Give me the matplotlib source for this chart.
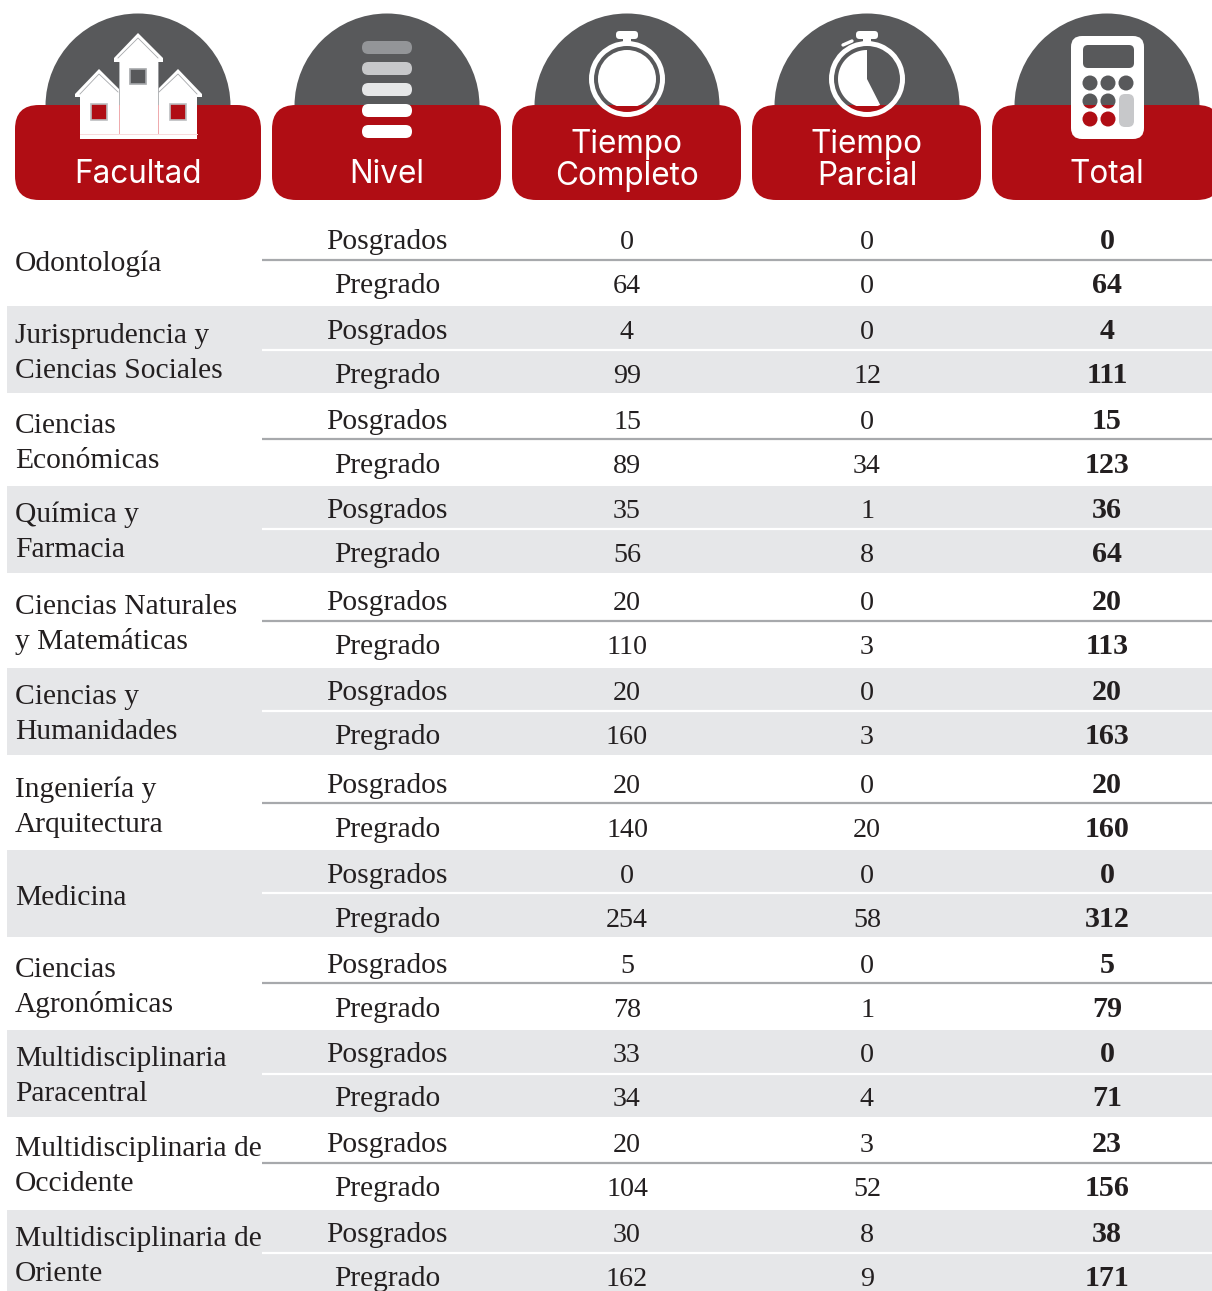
import numpy as np
import matplotlib
matplotlib.use('Agg')
import matplotlib.pyplot as plt
from matplotlib.patches import FancyBboxPatch, Rectangle, Circle, Polygon, Wedge

facultades = ['Odontología', 'Jurisprudencia y\nCiencias Sociales', 'Ciencias\nEconómicas',
              'Química y\nFarmacia', 'Ciencias Naturales\ny Matemáticas', 'Ciencias y\nHumanidades',
              'Ingeniería y\nArquitectura', 'Medicina', 'Ciencias\nAgronómicas',
              'Multidisciplinaria\nParacentral', 'Multidisciplinaria de\nOccidente',
              'Multidisciplinaria de\nOriente']
niveles = ['Posgrados', 'Pregrado']
completo_pos = [0, 4, 15, 35, 20, 20, 20, 0, 5, 33, 20, 30]
completo_pre = [64, 99, 89, 56, 110, 160, 140, 254, 78, 34, 104, 162]
parcial_pos = [0, 0, 0, 1, 0, 0, 0, 0, 0, 0, 3, 8]
parcial_pre = [0, 12, 34, 8, 3, 3, 20, 58, 1, 4, 52, 9]
total_pos = [0, 4, 15, 36, 20, 20, 20, 0, 5, 0, 23, 38]
total_pre = [64, 111, 123, 64, 113, 163, 160, 312, 79, 71, 156, 171]
encabezados = ['Facultad', 'Nivel', 'Tiempo\nCompleto', 'Tiempo\nParcial', 'Total']

# layout in pixels of the picture
band_edges = [216, 306, 393, 486, 573, 668, 755, 850, 937, 1030, 1117, 1210, 1291]
sep_y = [260, 350, 439, 529, 621, 711, 803, 893, 983, 1074, 1163, 1253]
pos_y = [249, 339, 429, 518, 610, 700, 793, 883, 973, 1062, 1152, 1242]
pre_y = [293, 383, 473, 562, 654, 744, 837, 927, 1017, 1106, 1196, 1286]
col_x = [387, 627, 867, 1107]

RED = '#B00D14'
DARK = '#58595B'
BAND = '#E6E7E9'
LINE = '#A7A9AC'
TXT = '#231F20'
SERIF = 'Liberation Serif'
SANS = 'Inter'

def px(n):
    return n * 0.72

fig = plt.figure(figsize=(12.12, 12.91), dpi=100)
ax = fig.add_axes([0, 0, 1, 1])
ax.set_xlim(0, 1212)
ax.set_ylim(1291, 0)
ax.axis('off')

def clip(patch, y0, y1):
    r = Rectangle((0, y0), 1212, y1 - y0, transform=ax.transData)
    patch.set_clip_path(r)

def rbox(x0, y0, x1, y1, r, color, z):
    p = FancyBboxPatch((x0 + r, y0 + r), x1 - x0 - 2 * r, y1 - y0 - 2 * r,
                       boxstyle='round,pad=%f,rounding_size=%f' % (r, r),
                       fc=color, ec='none', zorder=z)
    ax.add_patch(p)
    return p

# table
for i in range(12):
    if i % 2 == 1:
        ax.add_patch(Rectangle((7, band_edges[i]), 1205, band_edges[i + 1] - band_edges[i],
                               fc=BAND, ec='none', zorder=1))
    ax.plot([262, 1212], [sep_y[i], sep_y[i]], color='white' if i % 2 else LINE, lw=1.6,
            solid_capstyle='butt', zorder=2)
    lineas = facultades[i].split('\n')
    mid = (pos_y[i] + pre_y[i]) / 2 - 10
    if len(lineas) == 1:
        ys = [mid + 1]
    else:
        ys = [mid - 17, mid + 18]
    for linea, yy in zip(lineas, ys):
        ax.text(15, yy + 9, linea, family=SERIF, fontsize=px(29.5), color=TXT, va='baseline', ha='left', zorder=3)
    filas = [(pos_y[i], niveles[0], completo_pos[i], parcial_pos[i], total_pos[i]),
             (pre_y[i], niveles[1], completo_pre[i], parcial_pre[i], total_pre[i])]
    for yy, nivel, c, p, t in filas:
        ax.text(col_x[0], yy, nivel, family=SERIF, fontsize=px(29.5), color=TXT, ha='center', va='baseline', zorder=3)
        ax.text(col_x[1], yy, str(c), family=SERIF, fontsize=px(28), color=TXT, ha='center', va='baseline', zorder=3)
        ax.text(col_x[2], yy, str(p), family=SERIF, fontsize=px(28), color=TXT, ha='center', va='baseline', zorder=3)
        ax.text(col_x[3], yy, str(t), family=SERIF, fontsize=px(30), color=TXT, weight='bold', ha='center', va='baseline', zorder=3)

# header boxes and domes
centros = [138, 387, 627, 867, 1107]
cajas = [(15, 261), (272, 501), (512, 741), (752, 981), (992, 1221)]
for c, (a, b) in zip(centros, cajas):
    ax.add_patch(Wedge((c, 106), 92.5, 180, 360, fc=DARK, ec='none', zorder=4))
    rbox(a, 105, b, 200, 24, RED, 5)

# header text
ax.text(138, 183, encabezados[0], family=SANS, fontsize=px(31.5), color='white', ha='center', va='baseline', zorder=8)
ax.text(387, 183, encabezados[1], family=SANS, fontsize=px(31.5), color='white', ha='center', va='baseline', zorder=8)
ax.text(1107, 183, encabezados[4], family=SANS, fontsize=px(31.5), color='white', ha='center', va='baseline', zorder=8)
for c, enc in zip([627, 867], encabezados[2:4]):
    l1, l2 = enc.split('\n')
    ax.text(c, 153, l1, family=SANS, fontsize=px(31.5), color='white', ha='center', va='baseline', zorder=8)
    ax.text(c, 185, l2, family=SANS, fontsize=px(31.5), color='white', ha='center', va='baseline', zorder=8)

# house icon
ax.add_patch(Polygon([(80, 139), (80, 97), (75, 97), (75, 94), (99, 69), (119, 89), (119, 62), (114, 62),
                      (114, 58), (138, 33), (163, 58), (163, 62), (158, 62), (158, 89), (178, 69), (202, 94),
                      (202, 97), (197, 97), (197, 139)], fc='white', ec='none', zorder=6))
ax.plot([118, 138, 158], [58, 38, 58], color='#A7A9AC', lw=0.6, zorder=7)
ax.plot([80, 99, 118], [94, 74, 92], color='#A7A9AC', lw=0.6, zorder=7)
ax.plot([159, 178, 197], [92, 74, 94], color='#A7A9AC', lw=0.6, zorder=7)
ax.plot([119, 119], [62, 105], color='#A7A9AC', lw=0.6, zorder=7)
ax.plot([158, 158], [62, 105], color='#A7A9AC', lw=0.6, zorder=7)
ax.plot([119, 119], [105, 133], color='#EFA9AC', lw=0.7, zorder=7)
ax.plot([158, 158], [105, 133], color='#EFA9AC', lw=0.7, zorder=7)
ax.plot([80, 197], [133.5, 133.5], color='#F8DADB', lw=0.7, zorder=7)
ax.add_patch(Rectangle((130, 69), 16, 15, fc=DARK, ec='#A7A9AC', lw=1.2, zorder=7))
ax.add_patch(Rectangle((91, 104), 16, 16, fc=RED, ec='#BCBEC0', lw=1.2, zorder=7))
ax.add_patch(Rectangle((170, 104), 16, 16, fc=RED, ec='#BCBEC0', lw=1.2, zorder=7))

# nivel icon
barras_y = [41, 62, 83, 104, 125]
barras_c = ['#939598', '#C7C8CA', '#E6E7E8', 'white', 'white']
for yy, col in zip(barras_y, barras_c):
    rbox(362, yy, 412, yy + 13, 6.4, col, 6)

# stopwatches
for c in [627, 867]:
    rbox(c - 11, 31, c + 11, 39, 3.5, 'white', 6)
    ax.add_patch(Rectangle((c - 4, 38), 8, 5, fc='white', ec='none', zorder=6))
    ax.add_patch(Wedge((c, 79), 38, 0, 360, width=5, fc='white', ec='none', zorder=6))
d = Circle((627, 79), 29, fc='white', ec='none', zorder=6)
ax.add_patch(d)
clip(d, 0, 106)
t = np.radians(np.linspace(153, 360, 80))
pts = [(867, 79)] + [(867 + 29 * np.sin(a), 79 - 29 * np.cos(a)) for a in t]
w = Polygon(pts, fc='white', ec='none', zorder=6)
ax.add_patch(w)
clip(w, 0, 106)
ax.plot([843, 852], [45, 41], color='white', lw=2.4, solid_capstyle='round', zorder=6)

# calculator
rbox(1071, 36, 1144, 139, 11, 'white', 6)
rbox(1083, 45, 1134, 68, 5, DARK, 7)
for yy in [83, 101, 119]:
    for xx in [1090, 1108, 1126]:
        if yy > 90 and xx == 1126:
            continue
        top = Circle((xx, yy), 7.5, fc=DARK, ec='none', zorder=7)
        ax.add_patch(top)
        clip(top, 0, 105)
        bot = Circle((xx, yy), 7.5, fc=RED, ec='none', zorder=7)
        ax.add_patch(bot)
        clip(bot, 105, 140)
rbox(1119, 94, 1134, 127, 6, '#C7C8CA', 7)

fig.savefig('out.png', dpi=100)
